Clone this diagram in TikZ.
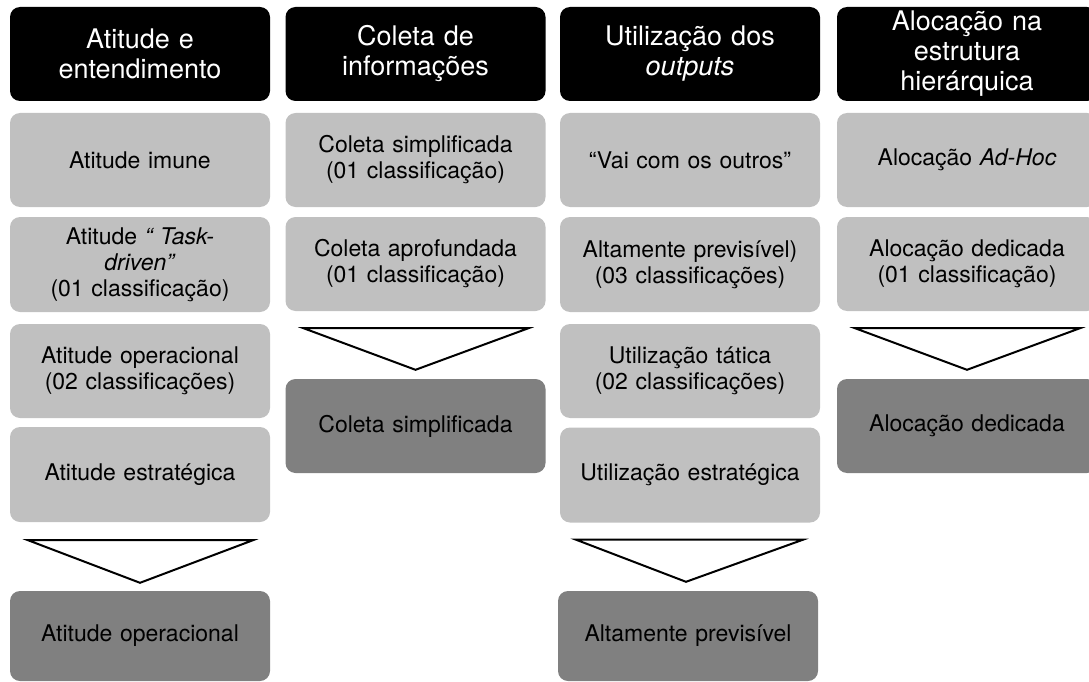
\documentclass[tikz,border=0pt]{standalone}
\usepackage{fontspec}
\setmainfont{TeX Gyre Heros}
\definecolor{lightbox}{RGB}{192,192,192}
\definecolor{darkbox}{RGB}{128,128,128}
\begin{document}
\begin{tikzpicture}[x=1pt,y=-1pt,
  base/.style={rounded corners=10pt, minimum width=260pt, inner sep=0pt, align=center, text width=250pt},
  head/.style={base, fill=black, text=white, minimum height=94pt, font=\fontsize{27}{30}\selectfont},
  lbox/.style={base, fill=lightbox, text=black, minimum height=94pt, font=\fontsize{23}{26}\selectfont},
  dbox/.style={base, fill=darkbox, text=black, font=\fontsize{23}{26}\selectfont},
  tri/.style={draw=black, fill=white, line width=2pt, line join=miter}]
\useasboundingbox (0,0) rectangle (1089,682);
\clip (0,0) rectangle (1089,682);
% headers
\node[head] (h1) at (140,54) {Atitude e\\entendimento};
\node[head] (h2) at (415.5,54) {Coleta de\\informações};
\node[head] (h3) at (690,54) {Utilização dos\\\textit{outputs}};
\node[head] (h4) at (967,54) {Alocação na\\estrutura\\hierárquica};
% column 1
\node[lbox] (a1) at (140,160) {Atitude imune};
\node[lbox, minimum height=95pt] (a2) at (140,264.5) {Atitude \textit{“ Task-}\\\textit{driven”}\\(01 classificação)};
\node[lbox] (a3) at (140,371) {Atitude operacional\\(02 classificações)};
\node[lbox, minimum height=95pt] (a4) at (140,474.5) {Atitude estratégica};
\node[dbox, minimum height=90pt] (ad) at (140,636) {Atitude operacional};
% column 2
\node[lbox] (b1) at (415.5,160) {Coleta simplificada\\(01 classificação)};
\node[lbox] (b2) at (415.5,264) {Coleta aprofundada\\(01 classificação)};
\node[dbox, minimum height=94pt] (bd) at (415.5,426) {Coleta simplificada};
% column 3
\node[lbox] (c1) at (690,160) {“Vai com os outros”};
\node[lbox, minimum height=95pt] (c2) at (690,264.5) {Altamente previsível)\\(03 classificações)};
\node[lbox] (c3) at (690,371) {Utilização tática\\(02 classificações)};
\node[lbox, minimum height=95pt] (c4) at (690,475) {Utilização estratégica};
\node[dbox, minimum height=90pt] (cd) at (688,636) {Altamente previsível};
% column 4
\node[lbox] (d1) at (967,160) {Alocação \textit{Ad-Hoc}};
\node[lbox] (d2) at (967,264) {Alocação dedicada\\(01 classificação)};
\node[dbox, minimum height=94pt] (dd) at (967,426) {Alocação dedicada};
% triangles
\draw[tri] ([xshift=-112pt,yshift=-18pt]a4.south) -- ([xshift=113pt,yshift=-18pt]a4.south) -- ([yshift=8pt]ad.north) -- cycle;
\draw[tri] ([xshift=-112pt,yshift=-17pt]b2.south) -- ([xshift=113pt,yshift=-17pt]b2.south) -- ([yshift=9pt]bd.north) -- cycle;
\draw[tri] ([xshift=-114pt,yshift=-17pt]c4.south) -- ([xshift=113pt,yshift=-17pt]c4.south) -- ([xshift=-2pt,yshift=9pt]cd.north) -- cycle;
\draw[tri] ([xshift=-112pt,yshift=-17pt]d2.south) -- ([xshift=113pt,yshift=-17pt]d2.south) -- ([yshift=9pt]dd.north) -- cycle;
\end{tikzpicture}
\end{document}
